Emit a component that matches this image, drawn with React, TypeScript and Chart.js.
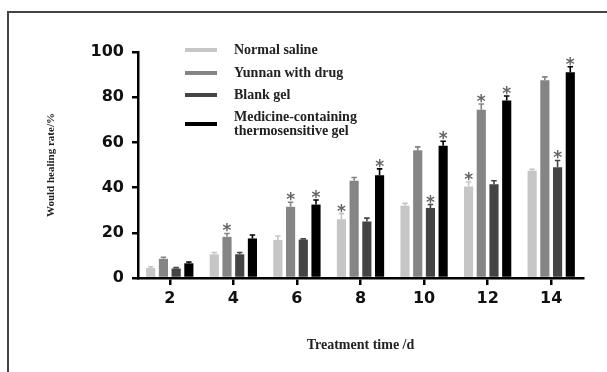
import React, { useEffect, useRef } from 'react';
import { Chart, registerables } from 'chart.js';

Chart.register(...registerables);

const days = ['2', '4', '6', '8', '10', '12', '14'];
const seriesNames = ['Normal saline', 'Yunnan with drug', 'Blank gel', 'Medicine-containing thermosensitive gel'];
const legendLines = [['Normal saline'], ['Yunnan with drug'], ['Blank gel'], ['Medicine-containing', 'thermosensitive gel']];
const seriesColors = ['#c6c6c6', '#858585', '#444444', '#000000'];

const normalSaline = [4.4, 10.5, 16.8, 26, 32, 40.5, 47.5];
const yunnanDrug = [8.5, 18.2, 31.5, 43, 56.5, 74.5, 87.5];
const blankGel = [4.2, 10.5, 17, 25, 31, 41.5, 49];
const medicineGel = [6.5, 17.5, 32.5, 45.5, 58.5, 78.5, 91];

const normalSalineErr = [0.6, 0.8, 1.8, 2.5, 1, 2, 0.6];
const yunnanDrugErr = [0.7, 1.5, 2, 1.5, 1.5, 2.5, 1.5];
const blankGelErr = [0.4, 0.8, 0.3, 1.5, 1.5, 1.5, 3];
const medicineGelErr = [0.6, 1.5, 2, 2.8, 2, 2, 2.5];

const normalSaleStar = [0, 0, 0, 1, 0, 1, 0];
const yunnanDrugStar = [0, 1, 1, 0, 0, 1, 0];
const blankGelStar = [0, 0, 0, 0, 1, 0, 1];
const medicineGelStar = [0, 0, 1, 1, 1, 1, 1];

const yTicks = [0, 20, 40, 60, 80, 100];

const seriesValues = [normalSaline, yunnanDrug, blankGel, medicineGel];
const seriesErrors = [normalSalineErr, yunnanDrugErr, blankGelErr, medicineGelErr];
const seriesStars = [normalSaleStar, yunnanDrugStar, blankGelStar, medicineGelStar];

const errorBarPlugin = {
  id: 'errorBars',
  afterDatasetsDraw(chart: any) {
    const ctx = chart.ctx;
    const yScale = chart.scales.y;
    ctx.save();
    chart.data.datasets.forEach((ds: any, i: number) => {
      const meta = chart.getDatasetMeta(i);
      meta.data.forEach((bar: any, j: number) => {
        const v = seriesValues[i][j];
        const e = seriesErrors[i][j];
        const yTop = yScale.getPixelForValue(v + e);
        const x = bar.x;
        const capHalf = bar.width * 0.3;
        ctx.strokeStyle = seriesColors[i];
        ctx.lineWidth = 1.6;
        ctx.beginPath();
        ctx.moveTo(x, bar.y);
        ctx.lineTo(x, yTop);
        ctx.moveTo(x - capHalf, yTop);
        ctx.lineTo(x + capHalf, yTop);
        ctx.stroke();
        if (seriesStars[i][j]) {
          ctx.fillStyle = '#666666';
          ctx.font = 'bold 17px "DejaVu Sans"';
          ctx.textAlign = 'center';
          ctx.textBaseline = 'alphabetic';
          ctx.fillText('*', x, yTop + 3);
        }
      });
    });
    ctx.restore();
  },
};

const legendPlugin = {
  id: 'customLegend',
  afterDraw(chart: any) {
    const ctx = chart.ctx;
    const area = chart.chartArea;
    const sx1 = area.left + 47;
    const sx2 = area.left + 79;
    const tx = area.left + 96;
    const rowY = [50, 73, 95, 124];
    ctx.save();
    ctx.font = 'bold 14px "Liberation Serif"';
    ctx.textAlign = 'left';
    ctx.textBaseline = 'middle';
    legendLines.forEach((lines, i) => {
      const y = rowY[i];
      ctx.strokeStyle = seriesColors[i];
      ctx.lineWidth = 4;
      ctx.beginPath();
      ctx.moveTo(sx1, y);
      ctx.lineTo(sx2, y);
      ctx.stroke();
      ctx.fillStyle = '#222222';
      const lh = 14;
      lines.forEach((t, k) => {
        ctx.fillText(t, tx, y - ((lines.length - 1) * lh) / 2 + k * lh);
      });
    });
    ctx.restore();
  },
};

export default function App() {
  const ref = useRef<HTMLCanvasElement | null>(null);
  useEffect(() => {
    if (!ref.current) return;
    const chart = new Chart(ref.current, {
      type: 'bar',
      data: {
        labels: days,
        datasets: seriesNames.map((name, i) => ({
          label: name,
          data: seriesValues[i],
          backgroundColor: seriesColors[i],
          borderWidth: 0,
          categoryPercentage: 0.8,
          barPercentage: 0.72,
        })),
      },
      options: {
        responsive: false,
        animation: false,
        devicePixelRatio: 1,
        layout: { padding: { left: 0, right: 24, top: 52, bottom: 0 } },
        plugins: {
          legend: { display: false },
          tooltip: { enabled: false },
        },
        scales: {
          x: {
            grid: {
              drawOnChartArea: false,
              offset: false,
              drawTicks: true,
              tickLength: 7,
              lineWidth: 2.5,
              tickColor: '#000',
            },
            border: { display: true, color: '#000', width: 2.5 },
            ticks: {
              color: '#111',
              padding: 4,
              font: { family: '"DejaVu Sans"', size: 16, weight: 'bold' },
            },
            title: {
              display: true,
              text: 'Treatment time /d',
              color: '#222',
              font: { family: '"Liberation Serif"', size: 14, weight: 'bold' },
              padding: { top: 0, bottom: 18 },
            },
            afterFit: (scale: any) => {
              scale.height = 94;
            },
          },
          y: {
            min: 0,
            max: 100,
            afterBuildTicks: (scale: any) => {
              scale.ticks = yTicks.map((v) => ({ value: v }));
            },
            grid: {
              drawOnChartArea: false,
              drawTicks: true,
              tickLength: 6,
              lineWidth: 2.5,
              tickColor: '#000',
            },
            border: { display: true, color: '#000', width: 2.5 },
            ticks: {
              color: '#111',
              padding: 8,
              font: { family: '"DejaVu Sans"', size: 16, weight: 'bold' },
            },
            title: {
              display: true,
              text: 'Would healing rate/%',
              color: '#222',
              font: { family: '"Liberation Serif"', size: 11, weight: 'bold' },
              padding: { top: 45, bottom: 0 },
            },
            afterFit: (scale: any) => {
              scale.width = 138;
            },
          },
        },
      },
      plugins: [errorBarPlugin, legendPlugin],
    });
    return () => chart.destroy();
  }, []);

  return (
    <div style={{ position: 'fixed', left: 0, top: 0, width: 607, height: 372, background: '#fff' }}>
      <div
        style={{
          position: 'absolute',
          left: 7,
          top: 11,
          width: 600,
          height: 361,
          borderLeft: '2px solid #444',
          borderTop: '2px solid #444',
          boxSizing: 'border-box',
        }}
      />
      <canvas ref={ref} width={607} height={372} style={{ position: 'absolute', left: 0, top: 0 }} />
    </div>
  );
}
